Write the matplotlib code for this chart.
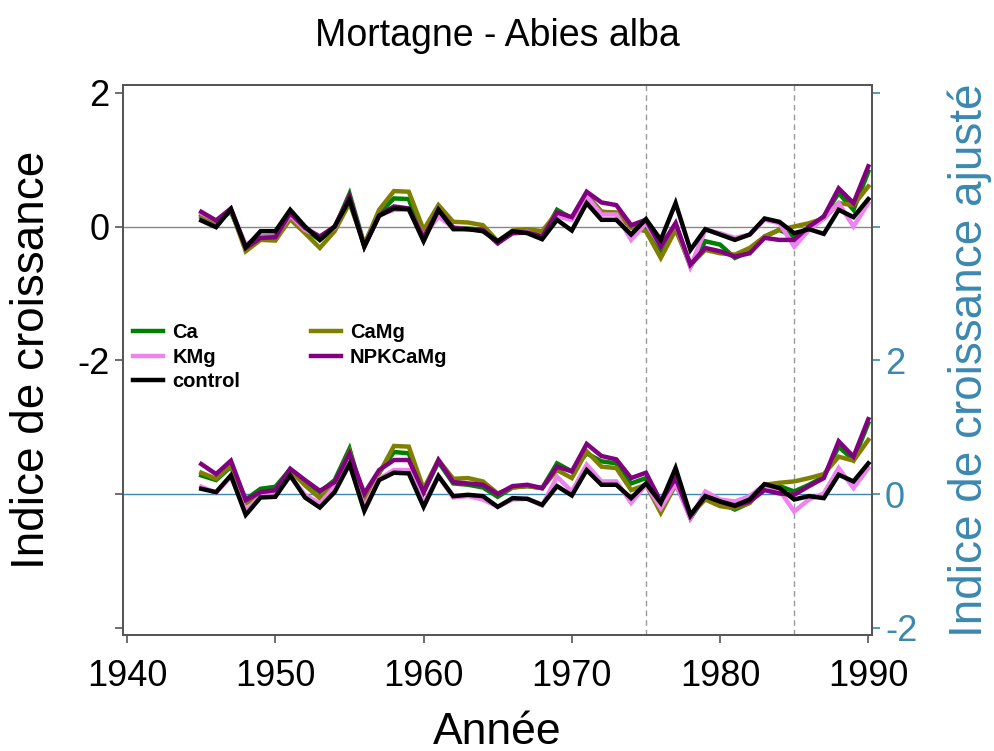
import numpy as np
import matplotlib
matplotlib.use("Agg")
import matplotlib.pyplot as plt

plt.rcParams['font.family'] = ['Liberation Sans', 'DejaVu Sans']
plt.rcParams['axes.unicode_minus'] = False

years = np.arange(1945, 1991)

# indice de croissance (brut)
raw_ca = [0.17, 0.07, 0.22, -0.30, -0.15, -0.14, 0.17, -0.05, -0.20, -0.02, 0.49, -0.27, 0.20, 0.42, 0.41, -0.17, 0.27,
          -0.02, -0.03, -0.05, -0.25, -0.08, -0.07, -0.15, 0.25, 0.12, 0.47, 0.22, 0.20, 0.0, 0.0, -0.35, 0.0, -0.60,
          -0.22, -0.27, -0.47, -0.37, -0.15, -0.05, -0.15, -0.02, 0.15, 0.50, 0.25, 0.82]
raw_camg = [0.14, 0.06, 0.25, -0.37, -0.20, -0.21, 0.11, -0.10, -0.32, -0.07, 0.35, -0.27, 0.25, 0.53, 0.52, -0.05, 0.32,
            0.07, 0.06, 0.02, -0.22, -0.06, -0.04, -0.07, 0.21, 0.12, 0.47, 0.22, 0.21, -0.02, -0.07, -0.47, -0.05, -0.57,
            -0.35, -0.40, -0.42, -0.32, -0.15, -0.05, 0.0, 0.05, 0.12, 0.35, 0.32, 0.60]
raw_kmg = [0.20, 0.09, 0.25, -0.27, -0.15, -0.15, 0.17, -0.05, -0.15, -0.02, 0.42, -0.30, 0.17, 0.25, 0.25, -0.15, 0.15,
           -0.02, -0.04, -0.06, -0.24, -0.10, -0.08, -0.17, 0.15, 0.10, 0.45, 0.18, 0.18, -0.20, 0.05, -0.30, 0.05, -0.60,
           -0.05, -0.10, -0.17, -0.12, 0.10, 0.05, -0.30, -0.05, 0.12, 0.35, 0.0, 0.35]
raw_npk = [0.22, 0.09, 0.27, -0.32, -0.17, -0.16, 0.20, -0.02, -0.15, 0.0, 0.45, -0.30, 0.17, 0.30, 0.27, -0.17, 0.25,
           -0.02, -0.04, -0.05, -0.25, -0.10, -0.09, -0.15, 0.21, 0.14, 0.52, 0.36, 0.32, 0.02, 0.10, -0.30, 0.05, -0.57,
           -0.32, -0.37, -0.45, -0.40, -0.17, -0.20, -0.20, 0.0, 0.15, 0.57, 0.35, 0.90]
raw_ctrl = [0.09, -0.01, 0.26, -0.31, -0.07, -0.07, 0.25, 0.0, -0.20, 0.0, 0.40, -0.30, 0.16, 0.27, 0.26, -0.22, 0.25,
            -0.04, -0.04, -0.07, -0.22, -0.07, -0.10, -0.19, 0.10, -0.06, 0.35, 0.10, 0.10, -0.12, 0.11, -0.20, 0.35, -0.35,
            -0.04, -0.12, -0.20, -0.12, 0.12, 0.07, -0.10, -0.04, -0.11, 0.25, 0.14, 0.41]

# indice de croissance ajuste
adj_ca = [0.28, 0.21, 0.41, -0.08, 0.08, 0.11, 0.37, 0.18, 0.03, 0.21, 0.68, -0.08, 0.32, 0.63, 0.61, 0.03, 0.48,
          0.16, 0.14, 0.10, -0.04, 0.10, 0.12, 0.09, 0.46, 0.34, 0.61, 0.49, 0.46, 0.16, 0.24, -0.16, 0.21, -0.36,
          -0.03, -0.13, -0.23, -0.13, 0.14, 0.12, 0.04, 0.14, 0.26, 0.71, 0.51, 1.06]
adj_camg = [0.32, 0.23, 0.43, -0.14, -0.01, 0.01, 0.36, 0.13, -0.06, 0.16, 0.63, -0.14, 0.31, 0.72, 0.71, 0.08, 0.51,
            0.23, 0.24, 0.19, 0.01, 0.10, 0.12, 0.09, 0.36, 0.24, 0.64, 0.41, 0.39, 0.06, 0.14, -0.28, 0.14, -0.31,
            -0.08, -0.18, -0.21, -0.13, 0.14, 0.17, 0.19, 0.24, 0.30, 0.56, 0.50, 0.81]
adj_kmg = [0.11, 0.02, 0.26, -0.24, -0.03, -0.01, 0.27, -0.01, -0.14, 0.11, 0.46, -0.19, 0.23, 0.36, 0.36, -0.14, 0.27,
           -0.05, -0.03, -0.08, -0.19, -0.08, -0.07, -0.17, 0.26, 0.04, 0.44, 0.19, 0.19, -0.13, 0.14, -0.21, 0.16, -0.36,
           0.04, -0.08, -0.11, -0.03, 0.14, 0.06, -0.26, -0.08, 0.01, 0.39, 0.09, 0.39]
adj_npk = [0.45, 0.30, 0.50, -0.09, 0.03, 0.06, 0.38, 0.21, 0.05, 0.18, 0.61, 0.01, 0.36, 0.51, 0.51, 0.03, 0.51,
           0.18, 0.16, 0.14, 0.0, 0.12, 0.14, 0.09, 0.41, 0.34, 0.75, 0.57, 0.52, 0.24, 0.32, -0.11, 0.24, -0.33,
           -0.03, -0.11, -0.18, -0.11, 0.06, 0.01, -0.01, 0.12, 0.24, 0.79, 0.56, 1.12]
adj_ctrl = [0.08, 0.03, 0.28, -0.31, -0.05, -0.04, 0.28, -0.05, -0.20, 0.03, 0.45, -0.25, 0.21, 0.32, 0.31, -0.19, 0.27,
            -0.03, -0.01, -0.03, -0.19, -0.06, -0.07, -0.16, 0.12, -0.02, 0.36, 0.14, 0.14, -0.06, 0.16, -0.13, 0.39, -0.31,
            -0.03, -0.11, -0.17, -0.08, 0.15, 0.09, -0.08, -0.03, -0.06, 0.29, 0.19, 0.46]

treatments = ["Ca", "CaMg", "KMg", "NPKCaMg", "control"]
colors = ["green", "olive", "violet", "purple", "black"]
raw = [raw_ca, raw_camg, raw_kmg, raw_npk, raw_ctrl]
adj = [adj_ca, adj_camg, adj_kmg, adj_npk, adj_ctrl]
periods = [1975, 1985]

blue = "#3b88b0"
spine_col = "#555555"

fig = plt.figure(figsize=(9.95, 7.51), dpi=100)
ax = fig.add_axes([0.1233, 0.1545, 0.7528, 0.7323])
ax2 = ax.twinx()

ax.axhline(0, color="#888888", lw=1.0, zorder=1)
ax2.axhline(0, color=blue, lw=1.0, zorder=1)
for p in periods:
    ax.axvline(p, color="#999999", lw=1.0, ls=(0, (4, 3)), zorder=1)

handles = {}
for name, col, r, a in zip(treatments, colors, raw, adj):
    h, = ax.plot(years, r, color=col, lw=3.2, solid_joinstyle="miter", zorder=3)
    ax2.plot(years, a, color=col, lw=3.2, solid_joinstyle="miter", zorder=3)
    handles[name] = h

ax.set_xlim(1939.7, 1990.23)
ax.set_ylim(-6.105, 2.115)
ax2.set_ylim(-2.105, 6.115)

ax.set_xticks([1940, 1950, 1960, 1970, 1980, 1990])
ax.set_yticks([-6, -4, -2, 0, 2])
ax.set_yticklabels(["", "", "-2", "0", "2"])
ax2.set_yticks([-2, 0, 2, 4, 6])
ax2.set_yticklabels(["-2", "0", "2", "", ""])

ax.tick_params(axis="both", labelsize=26, length=6, width=1.2, color=spine_col)
ax.tick_params(axis="x", pad=11)
ax2.tick_params(axis="y", labelsize=26, length=6, width=1.2, color=blue, labelcolor=blue)

for a_ in (ax, ax2):
    for s in a_.spines.values():
        s.set_color(spine_col)
        s.set_linewidth(1.3)

ax.set_xlabel("Année", fontsize=32, labelpad=13)
ax.set_ylabel("Indice de croissance", fontsize=33, labelpad=17)
ax2.set_ylabel("Indice de croissance ajusté", fontsize=33, color=blue, labelpad=22)
ax.set_title("Mortagne - Abies alba", fontsize=27, pad=28)

order = ["Ca", "KMg", "control", "CaMg", "NPKCaMg"]
fig.legend([handles[n] for n in order], order, ncol=2, frameon=False,
           loc="upper left", bbox_to_anchor=(0.1337, 0.5700),
           prop={"weight": "bold", "size": 14.5}, handlelength=1.5,
           handletextpad=0.45, labelspacing=0.28, columnspacing=3.5,
           borderpad=0, borderaxespad=0)

fig.savefig("out.png", dpi=100)
